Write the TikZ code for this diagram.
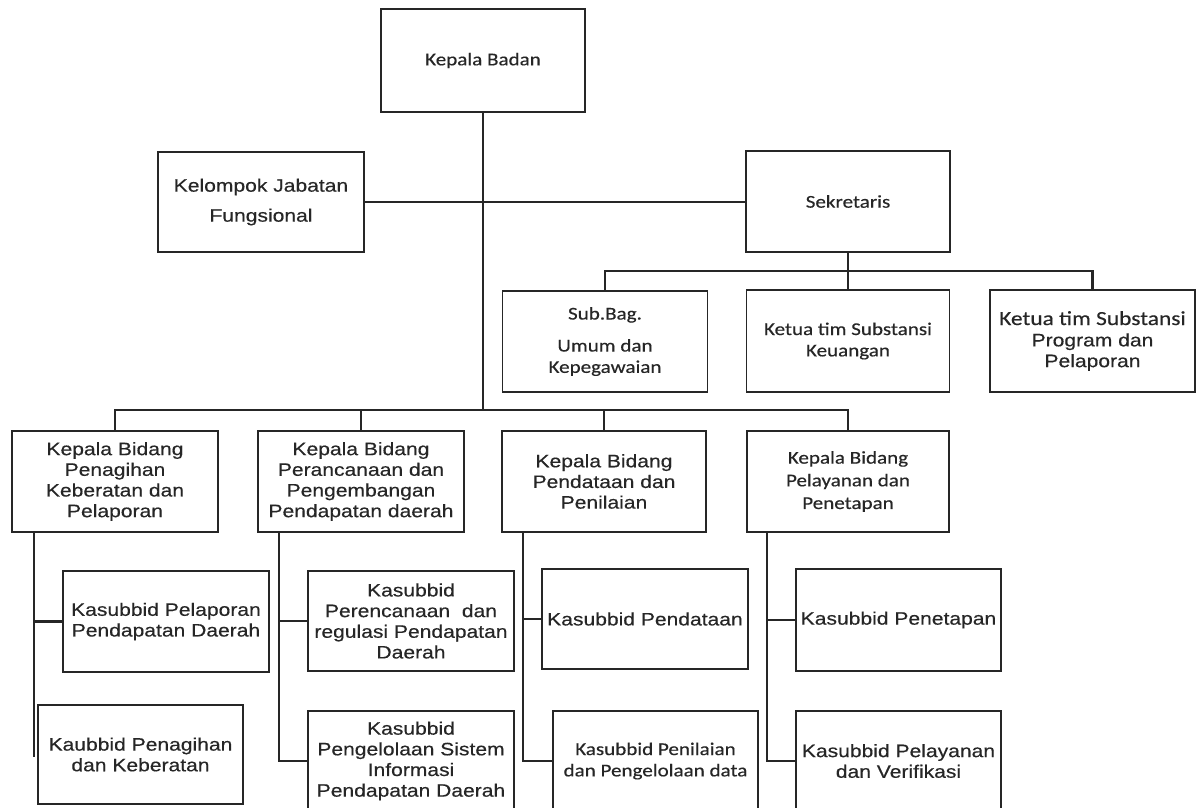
\documentclass[tikz,border=0pt]{standalone}
\usepackage{fontspec}
\newfontfamily\arialf[FakeStretch=1.17,FakeBold=0.35]{Liberation Sans}
\newfontfamily\calf[FakeStretch=1.17,FakeBold=0.35]{Carlito}
\definecolor{ink}{HTML}{262626}
\newcommand\orgbox[7][]{\node[box,#1,minimum width=#5*0.75pt,minimum height=#6*0.75pt] (#2) at (#3,#4) {#7};}
\newcommand\AF{\arialf\fontsize{13.5}{15.5}\selectfont}
\newcommand\CF{\calf\fontsize{13.5}{16}\selectfont}
\begin{document}
\begin{tikzpicture}[x=0.75pt,y=-0.75pt,
  box/.style={draw=ink, line width=1.3pt, align=center, inner sep=0pt, text=ink, fill=white},
  link/.style={draw=ink, line width=1.8pt},
  af/.style={font=\AF},
  cf/.style={font=\CF}]
\path[use as bounding box] (0,0) rectangle (1203,807);
\clip (0,0) rectangle (1203,807);
% coordinates of vertical column lines
\coordinate (c1) at (34,757);
\coordinate (c2) at (279,0);
\coordinate (c3) at (523,0);
\coordinate (c4) at (767,0);
\coordinate (bar1) at (0,271);
\coordinate (bar2) at (0,410);
% boxes
\orgbox[cf]{kb}{483}{60.5}{204}{103}{Kepala Badan}
\orgbox[af]{kjf}{261}{202}{206}{100}{Kelompok Jabatan\\[7pt]Fungsional}
\orgbox[cf]{sek}{848}{201.5}{204}{101}{Sekretaris}
\orgbox[cf]{sub}{605}{341.5}{205}{101}{Sub.Bag.\\[8pt]Umum dan\\Kepegawaian}
\orgbox[cf]{keu}{848}{341}{203}{102}{Ketua tim Substansi\\Keuangan}
\orgbox{prog}{1092.5}{341}{205}{102}{{\calf\fontsize{15}{17}\selectfont Ketua tim Substansi}\\[4pt]{\AF Program dan}\\[2pt]{\AF Pelaporan}}
\orgbox[af]{kb1}{115}{481.5}{206}{101}{Kepala Bidang\\Penagihan\\Keberatan dan\\Pelaporan}
\orgbox[af]{kb2}{361}{481.5}{206}{101}{Kepala Bidang\\Perancanaan dan\\Pengembangan\\Pendapatan daerah}
\orgbox[af]{kb3}{604}{481.5}{204}{101}{Kepala Bidang\\Pendataan dan\\Penilaian}
\orgbox[cf]{kb4}{848}{481.5}{202}{101}{Kepala Bidang\\[1pt]Pelayanan dan\\[1pt]Penetapan}
\orgbox[af]{pel}{166}{621.5}{206}{101}{Kasubbid Pelaporan\\Pendapatan Daerah}
\orgbox[af]{kau}{140.5}{754.5}{205}{99}{Kaubbid Penagihan\\dan Keberatan}
\orgbox[af]{per}{411}{621}{206}{100}{Kasubbid\\Perencanaan~ dan\\regulasi Pendapatan\\Daerah}
\orgbox[af]{pgl}{411}{761}{206}{100}{Kasubbid\\Pengelolaan Sistem\\Informasi\\Pendapatan Daerah}
\orgbox[af]{pdt}{645}{619}{206}{100}{Kasubbid Pendataan}
\orgbox[cf]{pnl}{655.5}{761}{205}{100}{Kasubbid Penilaian\\dan Pengelolaan data}
\orgbox[af]{pnt}{898.5}{620}{205}{102}{Kasubbid Penetapan}
\orgbox[af]{pvr}{898.5}{761}{205}{100}{Kasubbid Pelayanan\\dan Verifikasi}
% top connectors
\draw[link] (kb.south) -- (kb.south |- bar2);
\draw[link] (kjf.east) -- (sek.west |- kjf.east);
\draw[link] (sek.south) -- (sek.south |- bar1);
\draw[link] (sub.north) -- (sub.north |- bar1) -- (prog.north |- bar1) -- (prog.north);
\draw[link] (keu.north) -- (keu.north |- bar1);
\draw[link] (kb1.north) -- (kb1.north |- bar2) -- (kb4.north |- bar2) -- (kb4.north);
\draw[link] (kb2.north) -- (kb2.north |- bar2);
\draw[link] (kb3.north) -- (kb3.north |- bar2);
% column 1
\draw[link] (kb1.south -| c1) -- (c1);
\draw[link] (pel.west) -- (pel.west -| c1);
% column 2
\draw[link] (kb2.south -| c2) -- (pgl.west -| c2) -- (pgl.west);
\draw[link] (per.west) -- (per.west -| c2);
% column 3
\draw[link] (kb3.south -| c3) -- (pnl.west -| c3) -- (pnl.west);
\draw[link] (pdt.west) -- (pdt.west -| c3);
% column 4
\draw[link] (kb4.south -| c4) -- (pvr.west -| c4) -- (pvr.west);
\draw[link] (pnt.west) -- (pnt.west -| c4);
\end{tikzpicture}
\end{document}
